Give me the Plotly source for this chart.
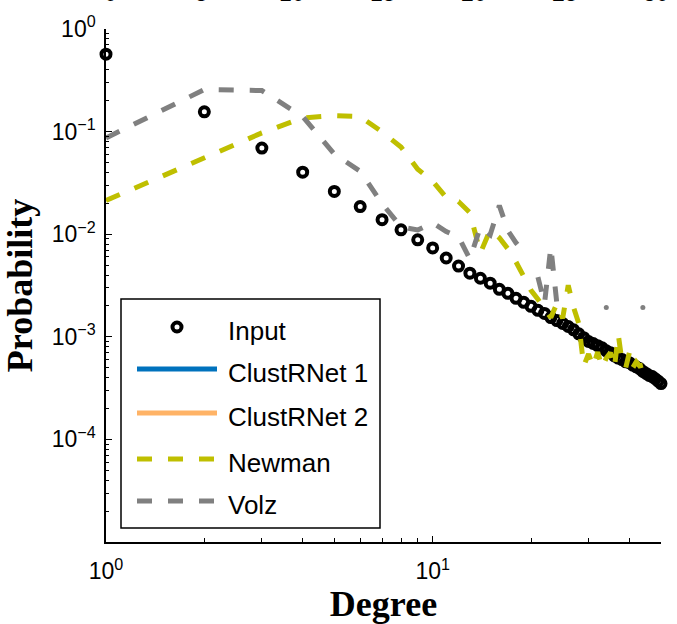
import math
import plotly.graph_objects as go

# ---------------- data ----------------
degree = list(range(1, 51))

# observed degree distribution of the input network
p_input = [0.568, 0.156, 0.0691, 0.0402, 0.0261, 0.0186, 0.01386, 0.01104, 0.00881, 0.00735,
           0.00586, 0.00489, 0.00417, 0.00372, 0.00333, 0.00290, 0.00265, 0.00237, 0.00217, 0.00198,
           0.00181, 0.00169, 0.00154, 0.00144, 0.00135, 0.00126, 0.00117, 0.00107, 0.00098, 0.00090,
           0.00086, 0.00082, 0.00078, 0.00073, 0.00070, 0.00065, 0.00062, 0.00060, 0.00057, 0.00056,
           0.00053, 0.00051, 0.00049, 0.00046, 0.00044, 0.00042, 0.00041, 0.00039, 0.00037, 0.00035]

# Newman model (degrees 47-50 never generated)
p_newman = [0.0213, 0.0551, 0.0971, 0.136, 0.143, 0.140, 0.0993, 0.0707, 0.0430, 0.0328,
            0.0228, 0.0208, 0.0162, 0.00656, 0.0110, 0.00922, 0.00718, 0.00535, 0.00381, 0.00284,
            0.00232, 0.00189, 0.00154, 0.00211, 0.00151, 0.00318, 0.00193, 0.00135, 0.00052, 0.00068,
            0.00051, 0.00071, 0.00050, 0.00062, 0.00070, 0.00050, 0.00105, 0.00057, 0.00050, 0.00070,
            0.00050, 0.00057, 0.00052, 0.00053, 0.00050, 0.00049, None, None, None, None]

# Volz model (None = degree not present)
p_volz = [0.0867, 0.257, 0.251, 0.140, 0.0604, 0.0411, 0.0199, 0.0118, 0.0110, 0.0129,
          0.0106, 0.00942, 0.00573, 0.0118, 0.00986, 0.0190, 0.0108, 0.00823, 0.00671, None,
          0.00381, 0.00211, 0.00752, 0.00211, None, None, None, None, None, None,
          None, None, None, 0.00193, None, None, None, None, None, None,
          None, None, None, 0.00193, None, None, None, None, None, None]

legend_names = ["Input", "ClustRNet 1", "ClustRNet 2", "Newman", "Volz"]
legend_colors = ["black", "#0072BD", "#FFB366", "#BFBF00", "#808080"]

x_tick_vals = [1, 10]
x_tick_text = ["10<sup>0</sup>", "10<sup>1</sup>"]
y_tick_vals = [1, 0.1, 0.01, 0.001, 0.0001]
y_tick_text = ["10<sup>0</sup>", "10<sup>\u22121</sup>", "10<sup>\u22122</sup>",
               "10<sup>\u22123</sup>", "10<sup>\u22124</sup>"]

# tick labels of the neighbouring panel's linear axis, clipped at the page top
upper_labels = ["0", "5", "10", "15", "20", "25", "30"]

# ---------------- styling ----------------
NEWMAN_C = legend_colors[3]
VOLZ_C = legend_colors[4]
DASH = "15px,16px"
SANS = "Liberation Sans"
SERIF = "Liberation Serif"

W, H = 677, 624
ML, MR, MT, MB = 106, 16, 29, 82
PW, PH = W - ML - MR, H - MT - MB


def px_x(px):
    return (px - ML) / PW


def px_y(py):
    return (H - MB - py) / PH


fig = go.Figure()

fig.add_trace(go.Scatter(
    x=degree, y=p_input, mode="markers", name=legend_names[0], cliponaxis=False,
    marker=dict(symbol="circle-open", size=9, color="black", line=dict(width=4, color="black")),
    showlegend=False))

fig.add_trace(go.Scatter(
    x=degree, y=p_newman, mode="lines", name=legend_names[3],
    line=dict(color=NEWMAN_C, width=5, dash=DASH), connectgaps=False, showlegend=False))

fig.add_trace(go.Scatter(
    x=degree, y=p_volz, mode="lines", name=legend_names[4],
    line=dict(color=VOLZ_C, width=5, dash=DASH), connectgaps=False, showlegend=False))

# isolated Volz values (no neighbour to join) are shown as dots
iso_x, iso_y = [], []
for i, v in enumerate(p_volz):
    prev_v = p_volz[i - 1] if i > 0 else None
    next_v = p_volz[i + 1] if i < len(p_volz) - 1 else None
    if v is not None and prev_v is None and next_v is None:
        iso_x.append(degree[i])
        iso_y.append(v)
fig.add_trace(go.Scatter(
    x=iso_x, y=iso_y, mode="markers", name=legend_names[4] + " (isolated)",
    marker=dict(color=VOLZ_C, size=5), showlegend=False))

# ---------------- hand-drawn legend ----------------
shapes = []
annotations = []
shapes.append(dict(type="rect", xref="paper", yref="paper",
                   x0=px_x(121), x1=px_x(380), y0=px_y(528), y1=px_y(299),
                   line=dict(color="black", width=1.5), fillcolor="white", layer="above"))
row_y = [327, 369, 413, 459, 501]
for name, color, ry in zip(legend_names, legend_colors, row_y):
    if name == "Input":
        shapes.append(dict(type="circle", xref="paper", yref="paper",
                           xsizemode="pixel", ysizemode="pixel",
                           xanchor=px_x(177), yanchor=px_y(ry),
                           x0=-4.5, x1=4.5, y0=-4.5, y1=4.5,
                           line=dict(color="black", width=4), layer="above"))
    else:
        dash = "solid" if name.startswith("ClustRNet") else DASH
        shapes.append(dict(type="line", xref="paper", yref="paper",
                           x0=px_x(137), x1=px_x(217), y0=px_y(ry), y1=px_y(ry),
                           line=dict(color=color, width=5, dash=dash), layer="above"))
    annotations.append(dict(text=name, xref="paper", yref="paper",
                            x=px_x(226), y=px_y(ry + 4), xanchor="left", yanchor="middle",
                            showarrow=False, font=dict(family=SANS, size=26, color="black")))

# clipped labels from the panel above
for i, lab in enumerate(upper_labels):
    pos = 110 + i * (656 - 110) / (len(upper_labels) - 1)
    annotations.append(dict(text=lab, xref="paper", yref="paper",
                            x=px_x(pos), y=px_y(-6.8), xanchor="center", yanchor="middle",
                            showarrow=False, font=dict(family=SANS, size=23, color="black")))

axis_common = dict(
    showgrid=False, zeroline=False, showline=True, linecolor="black", linewidth=1.5,
    mirror=False, ticks="inside", ticklen=6, tickwidth=1.2, tickcolor="black",
    tickfont=dict(family=SANS, size=23, color="black"), automargin=False,
)

x_minor = [m * 10 ** e for e in range(0, 2) for m in range(2, 10) if m * 10 ** e <= 50]
y_minor = [m * 10.0 ** e for e in range(-5, 0) for m in range(2, 10)]

fig.update_xaxes(
    type="log", range=[0, math.log10(50)],
    tickmode="array", tickvals=x_tick_vals, ticktext=x_tick_text,
    minor=dict(tickmode="array", tickvals=x_minor, ticks="inside", ticklen=4,
               tickwidth=1.2, tickcolor="black", showgrid=False),
    title=dict(text="Degree", font=dict(family=SERIF, size=36, color="black", weight="bold"),
               standoff=10),
    ticklabelstandoff=8,
    **axis_common)

fig.update_yaxes(
    type="log", range=[-5, 0],
    tickmode="array", tickvals=y_tick_vals, ticktext=y_tick_text,
    minor=dict(tickmode="array", tickvals=y_minor, ticks="inside", ticklen=3,
               tickwidth=1.2, tickcolor="black", showgrid=False),
    title=dict(text="Probability", font=dict(family=SERIF, size=36, color="black", weight="bold"),
               standoff=10),
    ticklabelstandoff=4,
    **axis_common)

fig.update_layout(
    width=W, height=H, autosize=False,
    margin=dict(l=ML, r=MR, t=MT, b=MB, pad=0),
    paper_bgcolor="white", plot_bgcolor="white",
    shapes=shapes, annotations=annotations,
    showlegend=False,
)

fig.write_html("out.html")
